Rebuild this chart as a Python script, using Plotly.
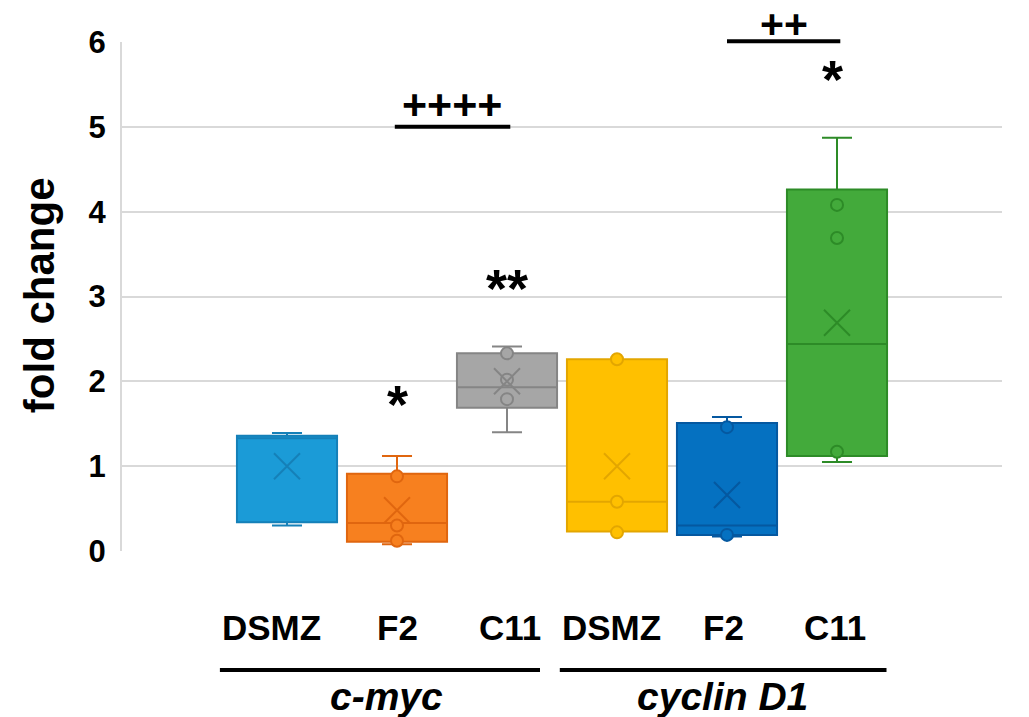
import plotly.graph_objects as go

# ---- data ----
categories = ["DSMZ", "F2", "C11", "DSMZ", "F2", "C11"]
genes = ["c-myc", "cyclin D1"]
q1 = [0.34, 0.11, 1.69, 0.23, 0.19, 1.12]
median = [1.33, 0.33, 1.93, 0.58, 0.30, 2.44]
q3 = [1.36, 0.91, 2.33, 2.26, 1.51, 4.26]
lower = [0.30, 0.08, 1.40, 0.23, 0.17, 1.05]
upper = [1.39, 1.12, 2.41, 2.26, 1.58, 4.87]
means = [1.00, 0.48, 2.00, 1.00, 0.66, 2.69]
points = [[], [0.88, 0.30, 0.12], [2.33, 2.02, 1.79], [2.26, 0.58, 0.22], [1.46, 0.19], [4.08, 3.69, 1.17]]

# ---- styles ----
fills = ["#1b9bd7", "#f7801f", "#a6a6a6", "#ffc000", "#0571c1", "#43aa3b"]
edges = ["#1580b8", "#e0660f", "#858585", "#e3a600", "#0558a0", "#2d8b27"]
FONT = "Liberation Sans, Arial, sans-serif"

fig = go.Figure()
for i in range(len(categories)):
    fig.add_trace(go.Box(
        x=[i], q1=[q1[i]], median=[median[i]], q3=[q3[i]],
        lowerfence=[lower[i]], upperfence=[upper[i]],
        width=0.91, whiskerwidth=0.3, boxpoints=False,
        fillcolor=fills[i], line=dict(color=edges[i], width=2),
        showlegend=False, hoverinfo="skip"))
    if points[i]:
        fig.add_trace(go.Scatter(
            x=[i] * len(points[i]), y=points[i], mode="markers",
            marker=dict(symbol="circle", size=12, color=fills[i],
                        line=dict(color=edges[i], width=2)),
            showlegend=False, hoverinfo="skip"))
    fig.add_trace(go.Scatter(
        x=[i], y=[means[i]], mode="markers",
        marker=dict(symbol="x-thin", size=26,
                    line=dict(color=edges[i], width=2)),
        showlegend=False, hoverinfo="skip"))

# significance markers (y in paper units so they may sit above the axis top)
YMAX = 6.0
sig = [
    dict(x=1.0, y=1.73, text="*", size=54),
    dict(x=2.0, y=3.10, text="**", size=54),
    dict(x=4.96, y=5.56, text="*", size=54),
    dict(x=1.5, y=5.27, text="++++", size=43),
    dict(x=4.52, y=6.21, text="++", size=41),
]
annotations = []
for s in sig:
    annotations.append(dict(x=s["x"], y=s["y"] / YMAX, xref="x", yref="paper", text=s["text"],
                            showarrow=False, font=dict(family=FONT, size=s["size"], color="black", weight="bold"),
                            xanchor="center", yanchor="middle"))

shapes = [
    dict(type="line", xref="x", yref="paper", x0=0.98, x1=2.03, y0=5.0 / YMAX, y1=5.0 / YMAX,
         line=dict(color="black", width=4)),
    dict(type="line", xref="x", yref="paper", x0=4.0, x1=5.03, y0=6.01 / YMAX, y1=6.01 / YMAX,
         line=dict(color="black", width=4)),
    dict(type="line", xref="x", yref="paper", x0=-0.61, x1=2.3, y0=-0.234, y1=-0.234,
         line=dict(color="black", width=4)),
    dict(type="line", xref="x", yref="paper", x0=2.48, x1=5.45, y0=-0.234, y1=-0.234,
         line=dict(color="black", width=4)),
]

label_dx = [-0.14, 0.0, 0.03, -0.05, -0.03, -0.02]
for i, c in enumerate(categories):
    annotations.append(dict(x=i + label_dx[i], y=-0.151, xref="x", yref="paper", text=c, showarrow=False,
                            font=dict(family=FONT, size=35, color="black", weight="bold"),
                            xanchor="center", yanchor="middle"))
gene_x = [0.9, 3.96]
for g, gx in zip(genes, gene_x):
    annotations.append(dict(x=gx, y=-0.285, xref="x", yref="paper", text=g, showarrow=False,
                            font=dict(family=FONT, size=39, color="black", weight="bold", style="italic"),
                            xanchor="center", yanchor="middle"))

annotations.append(dict(x=-0.093, y=0.503, xref="paper", yref="paper", text="fold change", showarrow=False,
                        textangle=-90, font=dict(family=FONT, size=42, color="black", weight="bold"),
                        xanchor="center", yanchor="middle"))

fig.update_layout(
    width=1029, height=717, autosize=False,
    margin=dict(l=122, r=27, t=42, b=166),
    paper_bgcolor="white", plot_bgcolor="white",
    annotations=annotations, shapes=shapes,
    xaxis=dict(range=[-1.5, 6.5], showgrid=False, zeroline=False, showticklabels=False,
               showline=False, fixedrange=True),
    yaxis=dict(range=[0, YMAX], tickvals=[0, 1, 2, 3, 4, 5, 6], showgrid=True, gridcolor="#d9d9d9",
               gridwidth=2, zeroline=False, showline=True, linecolor="#d9d9d9", linewidth=2,
               ticks="", ticklabelstandoff=8, fixedrange=True,
               tickfont=dict(family=FONT, size=31, color="black", weight="bold")),
)

fig.write_html("out.html", config={"displayModeBar": False},
               post_script="document.body.style.margin='0';document.body.style.overflow='hidden';")
